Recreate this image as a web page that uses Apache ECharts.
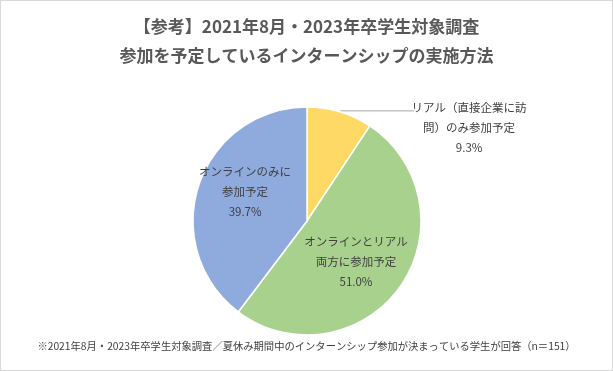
<!DOCTYPE html>
<html><head><meta charset="utf-8">
<script src="https://cdn.jsdelivr.net/npm/echarts@6/dist/echarts.min.js"></script>
<style>
html,body{margin:0;padding:0;background:#fff;}
#c{width:613px;height:371px;box-sizing:border-box;border:1px solid #d9d9d9;}
</style></head><body>
<div id="c"></div>
<script>
const categories = ['リアル（直接企業に訪\n問）のみ参加予定', 'オンラインとリアル\n両方に参加予定', 'オンラインのみに\n参加予定'];
const values = [9.3, 51.0, 39.7];
const colors = ['#FFD966', '#A9D18E', '#8FAADC'];
const titleLines = ['【参考】2021年8月・2023年卒学生対象調査', '参加を予定しているインターンシップの実施方法'];
const footnote = '※2021年8月・2023年卒学生対象調査／夏休み期間中のインターンシップ参加が決まっている学生が回答（n＝151）';

const labelPadding = [[34, 0, 0, 0], [12, 0, 0, 0], [0, 10, 20, 0]];
const font = '"Noto Sans CJK JP", "Noto Sans", sans-serif';
const chart = echarts.init(document.getElementById('c'), null, {renderer: 'canvas'});
const data = categories.map((name, i) => {
  const item = {value: values[i], name: name, itemStyle: {color: colors[i]}, label: {padding: labelPadding[i]}};
  if (i === 0) {
    item.label.position = 'outside';
    item.label.distanceToLabelLine = 0;
    item.labelLine = {show: true, length: 1, length2: 74, lineStyle: {color: '#a6a6a6', width: 1}};
  }
  return item;
});
chart.setOption({
  backgroundColor: '#ffffff',
  animation: false,
  title: [
    {text: titleLines[0], left: 'center', top: 12, textStyle: {fontFamily: font, fontSize: 17, fontWeight: 'bold', color: '#595959'}},
    {text: titleLines[1], left: 'center', top: 41, textStyle: {fontFamily: font, fontSize: 17, fontWeight: 'bold', color: '#595959'}},
    {text: footnote, left: 'center', top: 335, textStyle: {fontFamily: font, fontSize: 10.3, fontWeight: 'normal', color: '#404040'}}
  ],
  series: [{
    type: 'pie',
    center: [306, 220],
    radius: [0, 114],
    startAngle: 90,
    clockwise: true,
    itemStyle: {borderColor: '#ffffff', borderWidth: 1.5},
    labelLine: {show: false},
    label: {
      show: true,
      position: 'inside',
      fontFamily: font,
      fontSize: 11.5,
      color: '#404040',
      formatter: p => (p.name + '\n' + p.value.toFixed(1) + '%').split('\n').map(s => '{c|' + s + '}').join('\n'),
      rich: {
        c: {width: 110, align: 'center', fontFamily: font, fontSize: 11.5, lineHeight: 20, color: '#404040'}
      }
    },
    data: data
  }]
});
</script>
</body></html>
